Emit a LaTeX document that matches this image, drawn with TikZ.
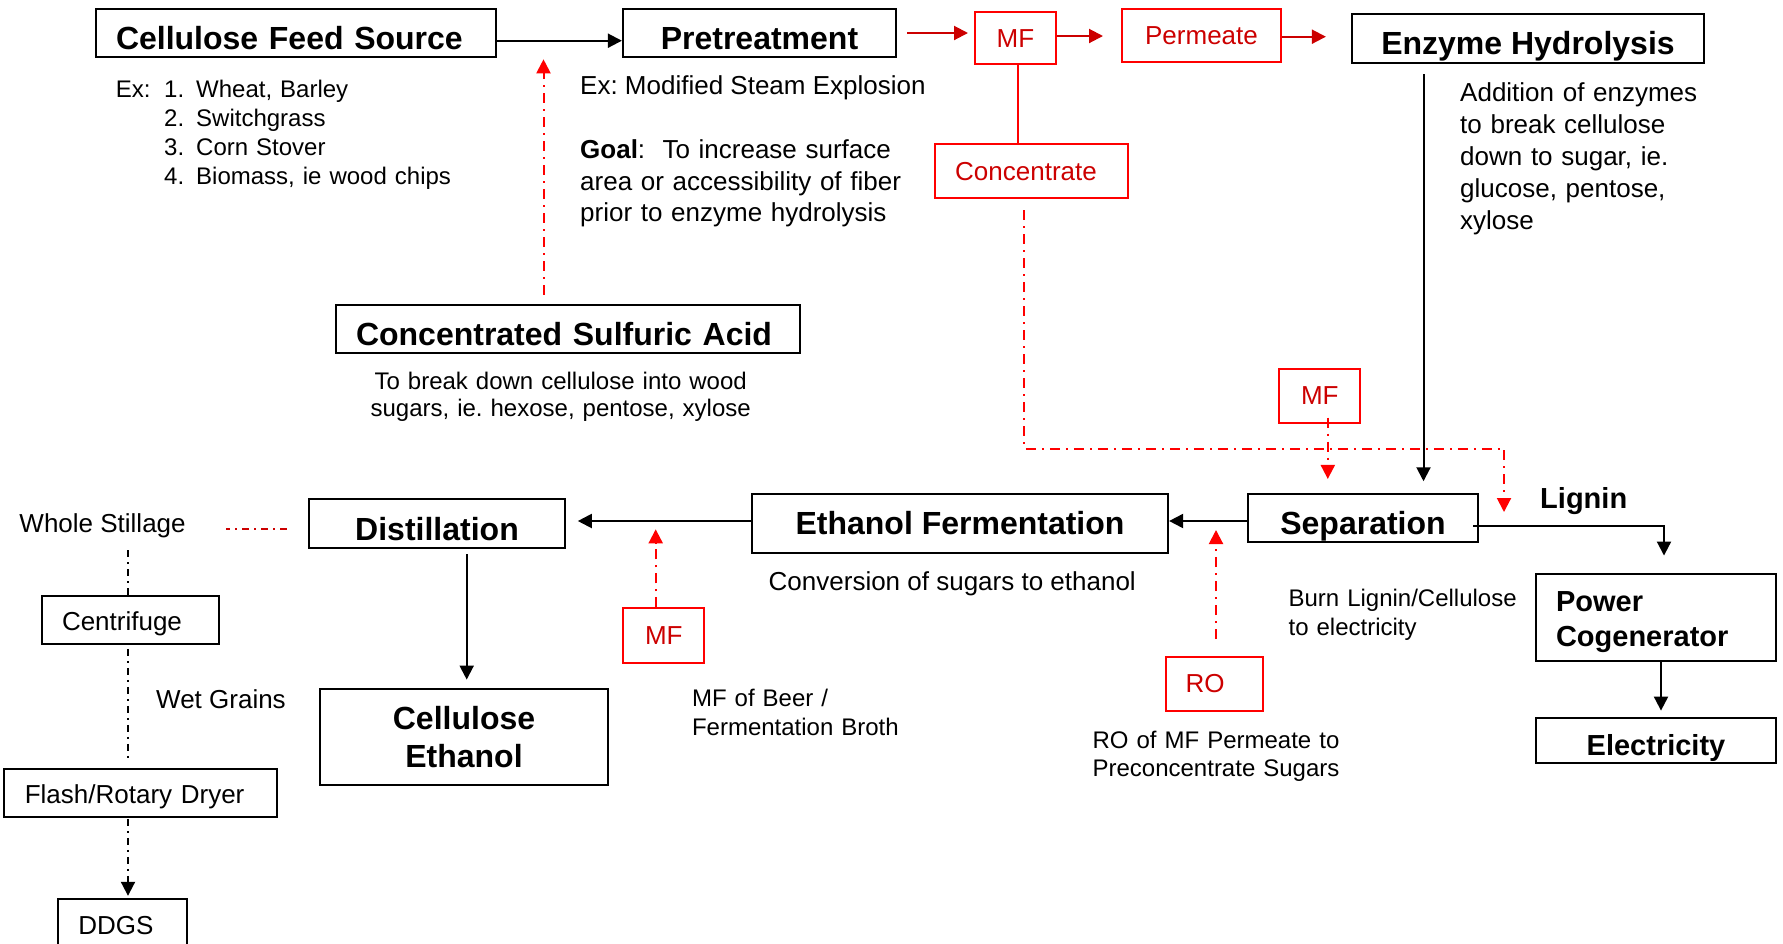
\documentclass[tikz,border=0pt]{standalone}
\usepackage{fontspec}
\setmainfont{Liberation Sans}
\usepackage{tikz}
\usetikzlibrary{arrows.meta}
\definecolor{brightred}{RGB}{255,0,0}
\definecolor{darkred}{RGB}{204,0,0}
\frenchspacing
\tikzset{>={Triangle[length=14pt,width=14pt]}}
\tikzset{
  boxline/.style={draw, line width=2.2pt, inner sep=0pt},
  stage/.style={boxline, font=\fontsize{32}{38}\selectfont\bfseries,
    text height=33pt, text depth=0pt},
  smallbox/.style={draw, line width=1.8pt, inner sep=0pt,
    font=\fontsize{26}{31}\selectfont, text height=22pt, text depth=0pt},
  unit/.style={draw=brightred, line width=2pt, inner sep=0pt, text=darkred,
    font=\fontsize{26}{31}\selectfont, text height=18pt, text depth=0pt},
  padleft/.style={text width=#1, inner xsep=20pt, align=left},
  note/.style={inner sep=0pt, anchor=base west, font=\fontsize{26}{32}\selectfont},
  smallnote/.style={inner sep=0pt, anchor=base west, font=\fontsize{24}{29}\selectfont},
  flow/.style={line width=2pt, ->},
  redflow/.style={line width=2pt, darkred, ->},
  recycle/.style={line width=2pt, brightred,
    dash pattern=on 10pt off 6pt on 2pt off 6pt},
  stillage/.style={line width=2pt, dash pattern=on 7pt off 5pt on 2pt off 5pt},
}

\begin{document}
\begin{tikzpicture}[x=1pt,y=-1pt]
    \useasboundingbox (0,0) rectangle (1783,943);
    % main line
    \node[stage, padleft=360pt, minimum height=48pt] (feed) at (296,33) {Cellulose Feed Source};
    \node[stage, minimum width=273pt, minimum height=48pt] (pre) at (759.5,33) {Pretreatment};
    \node[stage, minimum width=352pt, minimum height=48.7pt] (eh) at (1528,38.3) {Enzyme Hydrolysis};
    \node[stage, padleft=424pt, minimum height=47.7pt, text height=32.4pt] (acid) at (568,328.8) {Concentrated Sulfuric Acid};
    \node[stage, minimum width=256pt, minimum height=49pt, text height=32.4pt] (dist) at (437,523.8) {Distillation};
    \node[stage, minimum width=416pt, minimum height=59pt, text height=22pt] (ferm) at (960,523.5) {Ethanol Fermentation};
    \node[stage, minimum width=230pt, minimum height=48.3pt, text height=32.6pt] (sep) at (1363,518.2) {Separation};
    \node[boxline, font=\fontsize{32}{38}\selectfont\bfseries, text width=248pt, inner xsep=20pt,
          align=center, minimum height=96pt, text height=23pt] (ethanol) at (464,737) {Cellulose\\Ethanol};
    \node[boxline, font=\fontsize{29}{35}\selectfont\bfseries, padleft=200pt,
          minimum height=86.7pt, text height=30pt] (power) at (1656,617.3) {Power\\Cogenerator};
    \node[boxline, font=\fontsize{29}{35}\selectfont\bfseries, minimum width=240pt, minimum height=44.4pt,
          text height=29pt, text depth=0pt] (elec) at (1656,740.5) {Electricity};
    % stillage line
    \node[smallbox, padleft=137pt, minimum height=48pt] (cent) at (130.5,619.7) {Centrifuge};
    \node[smallbox, padleft=232pt, inner xsep=20.5pt, minimum height=48.3pt] (flash) at (140.8,792.8) {Flash/Rotary Dryer};
    \node[smallbox, padleft=88.4pt, minimum height=48pt] (ddgs) at (122.5,923) {DDGS};
    % membrane units
    \node[unit, minimum width=81pt, minimum height=52.6pt] (mf1) at (1015.5,38) {MF};
    \node[unit, minimum width=159pt, minimum height=53.3pt] (perm) at (1201.5,35.7) {Permeate};
    \node[unit, padleft=153pt, minimum height=54pt] (conc) at (1031.7,171.3) {Concentrate};
    \node[unit, minimum width=81pt, minimum height=53.7pt] (mf2) at (1319.8,395.8) {MF};
    \node[unit, minimum width=81pt, minimum height=54.4pt] (mf3) at (663.8,635.5) {MF};
    \node[unit, padleft=57.2pt, minimum height=54pt] (ro) at (1214.1,683.7) {RO};
    % notes
    \node[smallnote, text width=340pt, align=left] (feedex) at (115.6,97.3)
        {\makebox[48.4pt][l]{Ex:}\makebox[32pt][l]{1.}Wheat, Barley\\
         \hspace*{48.4pt}\makebox[32pt][l]{2.}Switchgrass\\
         \hspace*{48.4pt}\makebox[32pt][l]{3.}Corn Stover\\
         \hspace*{48.4pt}\makebox[32pt][l]{4.}Biomass, ie wood chips};
    \node[note] (steam) at (580,94.3) {Ex: Modified Steam Explosion};
    \node[note, text width=380pt, align=left, font=\fontsize{26}{31.7}\selectfont] (goal) at (580,158.3)
        {\textbf{Goal}:\ \ To increase surface\\area or accessibility of fiber\\prior to enzyme hydrolysis};
    \node[note, text width=300pt, align=left] (enz) at (1460,101.7)
        {Addition of enzymes\\to break cellulose\\down to sugar, ie.\\glucose, pentose,\\xylose};
    \node[smallnote, anchor=base, text width=440pt, align=center, font=\fontsize{24}{27.4}\selectfont] (acidnote) at (560.7,389.3)
        {To break down cellulose into wood\\sugars, ie. hexose, pentose, xylose};
    \node[note] (conv) at (768.5,590) {Conversion of sugars to ethanol};
    \node[smallnote, text width=260pt, align=left, font=\fontsize{24}{28.3}\selectfont] (burn) at (1288.4,606.7)
        {Burn Lignin/Cellulose\\to electricity};
    \node[smallnote, text width=240pt, align=left] (beer) at (691.8,706)
        {MF of Beer /\\Fermentation Broth};
    \node[smallnote, anchor=base, text width=280pt, align=center, font=\fontsize{24}{28.4}\selectfont] (ronote) at (1216,748.3)
        {RO of MF Permeate to\\Preconcentrate Sugars};
    \node[note, font=\fontsize{29}{35}\selectfont\bfseries] (lignin) at (1540,508.3) {Lignin};
    \node[note] (still) at (19.3,532.3) {Whole Stillage};
    \node[note] (wet) at (156,708.3) {Wet Grains};
    % free ends
    \coordinate (bend) at (1504,448.5);
    \coordinate (sepin) at (1504,512);
    \coordinate (roin) at (1216,530);
    \coordinate (mfin) at (655.7,529.3);
    \coordinate (acidin) at (543.5,59.3);
    % connectors
    \draw[flow] ([yshift=-7.7pt]feed.east) -- ([yshift=-7.7pt]feed.east -| pre.west);
    \draw[redflow, shorten <=10pt, shorten >=6pt] (pre.east) -- (pre.east -| mf1.west);
    \draw[redflow, shorten >=18pt] ([yshift=2pt]mf1.east) -- ([yshift=2pt]mf1.east -| perm.west);
    \draw[redflow, shorten >=25pt] ([yshift=-1pt]perm.east) -- ([yshift=-1pt]perm.east -| eh.west);
    \draw[line width=2pt, brightred] ([xshift=2.5pt]mf1.south) -- ([xshift=2.5pt]mf1.south |- conc.north);
    \draw[recycle, ->, shorten <=11pt] ([xshift=-7.7pt]conc.south) |- (bend) -- (sepin);
    \draw[recycle, ->, shorten <=-6pt, shorten >=14pt] ([xshift=8pt]mf2.south) -- ([xshift=8pt]mf2.south |- sep.north);
    \draw[flow, shorten <=10.6pt, shorten >=11.7pt] ([xshift=-104.5pt]eh.south) -- ([xshift=-104.5pt]eh.south |- sep.north);
    \draw[flow] ([yshift=-2.8pt]sep.west) -- ([yshift=-2.8pt]sep.west -| ferm.east);
    \draw[flow, shorten >=17.3pt] ([xshift=-6pt,yshift=-7.8pt]sep.east) -| ([xshift=8pt]power.north);
    \draw[flow, shorten >=6.6pt] ([xshift=5pt]power.south) -- ([xshift=5pt]elec.north);
    \draw[flow, shorten >=11.7pt] ([yshift=2.5pt]ferm.west) -- ([yshift=2.5pt]ferm.west -| dist.east);
    \draw[recycle, ->, shorten <=16.7pt] ([xshift=1.9pt]ro.north) -- (roin);
    \draw[recycle, ->] ([xshift=-8.1pt]mf3.north) -- (mfin);
    \draw[flow, shorten <=5pt, shorten >=8.3pt] ([xshift=29.7pt]dist.south) -- ([xshift=29.7pt]dist.south |- ethanol.north);
    \draw[recycle, ->, shorten <=9pt] ([xshift=-24.5pt]acid.north) -- (acidin);
    \draw[stillage, darkred, shorten <=21pt, shorten >=40pt] ([yshift=-5.2pt]dist.west) -- ([yshift=-5.2pt]dist.west -| still.east);
    \draw[stillage, shorten >=7pt] ([xshift=-2.8pt]cent.north) -- ([xshift=-2.8pt]cent.north |- still.south);
    \draw[stillage, shorten <=4.3pt, shorten >=7pt] ([xshift=-2.8pt]cent.south) -- ([xshift=-2.8pt]cent.south |- flash.north);
    \draw[stillage, ->, shorten <=1pt, shorten >=2.3pt] ([xshift=-12.8pt]flash.south) -- ([xshift=-12.8pt]flash.south |- ddgs.north);
\end{tikzpicture}
\end{document}
